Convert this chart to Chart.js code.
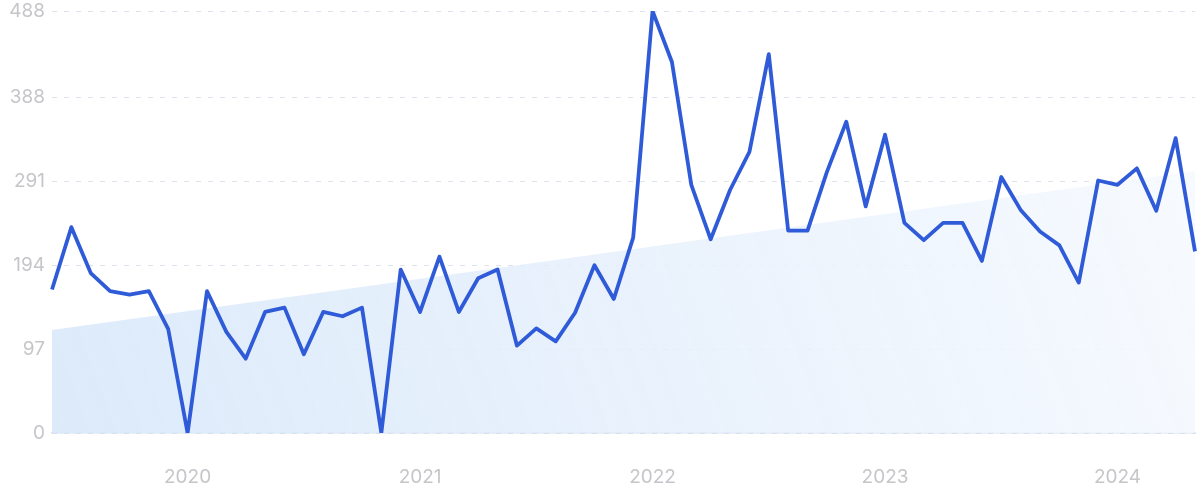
<!DOCTYPE html>
<html>
<head>
<meta charset="utf-8">
<script src="https://cdn.jsdelivr.net/npm/chart.js@4.4.0/dist/chart.umd.min.js"></script>
<style>
  html, body { margin: 0; padding: 0; background: #fff; }
  #wrap { width: 1200px; height: 499px; }
</style>
</head>
<body>
<div id="wrap"><canvas id="trend-chart" width="1200" height="499"></canvas></div>
<script>
// Monthly points, Jun 2019 .. May 2024
const months = [
    '2019-06','2019-07','2019-08','2019-09','2019-10','2019-11','2019-12',
    '2020-01','2020-02','2020-03','2020-04','2020-05','2020-06','2020-07','2020-08','2020-09','2020-10','2020-11','2020-12',
    '2021-01','2021-02','2021-03','2021-04','2021-05','2021-06','2021-07','2021-08','2021-09','2021-10','2021-11','2021-12',
    '2022-01','2022-02','2022-03','2022-04','2022-05','2022-06','2022-07','2022-08','2022-09','2022-10','2022-11','2022-12',
    '2023-01','2023-02','2023-03','2023-04','2023-05','2023-06','2023-07','2023-08','2023-09','2023-10','2023-11','2023-12',
    '2024-01','2024-02','2024-03','2024-04','2024-05'
];

const searches = [
    166, 238, 185, 164, 160, 164, 120,
    0, 164, 117, 86, 140, 145, 91, 140, 135, 145, 0, 189,
    140, 204, 140, 179, 189, 101, 121, 106, 139, 194, 155, 226,
    488, 429, 287, 224, 281, 325, 438, 234, 234, 302, 360, 262,
    345, 243, 223, 243, 243, 199, 296, 258, 233, 217, 174, 292,
    287, 306, 257, 341, 210
];

// trend band: value at first and last month
const trendStart = 119;
const trendEnd = 303;

const yTicks = [0, 97, 194, 291, 388, 488];

const ctx = document.getElementById('trend-chart').getContext('2d');

function bandGradient(context) {
    const area = context.chart.chartArea;
    if (!area) return 'rgba(220,234,250,0.8)';
    const g = context.chart.ctx.createLinearGradient(area.left, area.bottom, area.right, area.top);
    g.addColorStop(0, 'rgba(218,233,250,0.95)');
    g.addColorStop(0.5, 'rgba(230,240,252,0.85)');
    g.addColorStop(1, 'rgba(248,251,255,0.9)');
    return g;
}

new Chart(ctx, {
    type: 'line',
    data: {
        labels: months,
        datasets: [
            {
                label: 'Searches',
                data: searches,
                borderColor: '#2f5bd8',
                borderWidth: 3.8,
                borderJoinStyle: 'round',
                pointRadius: 0,
                tension: 0,
                fill: false
            },
            {
                label: 'Trend',
                data: [
                    { x: months[0], y: trendStart },
                    { x: months[months.length - 1], y: trendEnd }
                ],
                borderWidth: 0,
                borderColor: 'rgba(0,0,0,0)',
                backgroundColor: bandGradient,
                pointRadius: 0,
                tension: 0,
                fill: 'origin'
            }
        ]
    },
    options: {
        responsive: false,
        animation: false,
        layout: {
            padding: { top: 11, right: 5, left: 0, bottom: 0 }
        },
        plugins: {
            legend: { display: false },
            tooltip: { enabled: false }
        },
        scales: {
            x: {
                offset: false,
                grid: { display: false, drawTicks: false },
                border: { display: true, color: '#d6deec', width: 1.5 },
                afterFit: (scale) => {
                    scale.height = 66;
                    scale.paddingLeft = 0;
                    scale.paddingRight = 0;
                },
                ticks: {
                    autoSkip: false,
                    maxRotation: 0,
                    padding: 33,
                    color: '#c6c6ca',
                    font: { family: 'Inter', size: 19 },
                    callback: function(value) {
                        const m = months[value];
                        return m.endsWith('-01') ? m.slice(0, 4) : '';
                    }
                }
            },
            y: {
                min: 0,
                max: 488,
                afterBuildTicks: (scale) => {
                    scale.ticks = yTicks.map(v => ({ value: v }));
                },
                afterFit: (scale) => {
                    scale.width = 52;
                    scale.paddingTop = 0;
                    scale.paddingBottom = 0;
                },
                grid: { color: '#dce3ef', lineWidth: 1, drawTicks: false },
                border: { display: false, dash: [5, 7] },
                ticks: {
                    padding: 7,
                    color: '#c6c6ca',
                    font: { family: 'Inter', size: 19 }
                }
            }
        }
    }
});
</script>
</body>
</html>
